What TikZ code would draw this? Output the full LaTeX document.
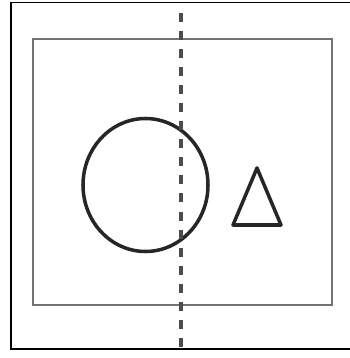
\documentclass[tikz,border=0pt]{standalone}
\usepackage{tikz}
\usetikzlibrary{positioning}
\tikzset{
  frame/.style={
    line width=0.9pt,
    draw=black
  },
  board/.style={
    line width=0.7pt,
    draw=black!55
  },
  figline/.style={
    line width=2pt,
    draw=black!85,
    line join=round
  },
  cut/.style={
    line width=2.4pt,
    draw=black!70,
    dash pattern=on 0.18cm off 0.181cm
  }
}
\begin{document}
\begin{tikzpicture}[x=0.02cm,y=-0.02cm]
    \useasboundingbox (0,0) rectangle (350,358);
    \def\cx{145.5}
    \def\cy{185}
    \draw[frame] (355,349) -- (11,349) -- (11,2.5) -- (355,2.5);
    \draw[board] (33,39) rectangle (332,305);
    \draw[figline] (\cx,\cy) ellipse [x radius=62.5, y radius=66.5];
    \coordinate (apex) at (257,168);
    \coordinate (baseL) at (233,225);
    \coordinate (baseR) at (281,225);
    \draw[figline] (apex) -- (baseL) -- (baseR) -- cycle;
    \coordinate (cuttop) at (181,13);
    \coordinate (cutbot) at (181,349);
    \draw[cut] (cuttop) -- (cutbot);
\end{tikzpicture}
\end{document}
